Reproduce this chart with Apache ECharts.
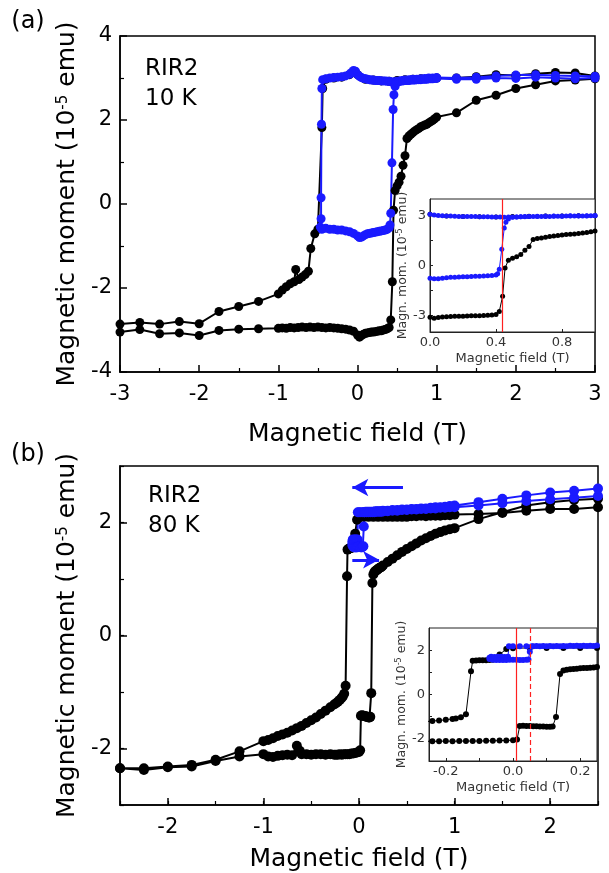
<!DOCTYPE html>
<html>
<head>
<meta charset="utf-8">
<script src="https://cdn.jsdelivr.net/npm/echarts@6/dist/echarts.min.js"></script>
<style>html,body{margin:0;padding:0;background:#fff;}#c{width:609px;height:873px;}</style>
</head>
<body>
<div id="c"></div>
<script>
// ---------- DATA ----------
// Panel (a): 10 K, field in T, moment in 1e-5 emu
const aBlackDown = [[3.0,3.05],[2.75,3.12],[2.5,3.13],[2.25,3.1],[2.0,3.06],[1.75,3.08],[1.5,3.03],[1.25,3.0],[1.0,3.0],[0.9,2.99],[0.8,2.98],[0.7,2.97],[0.6,2.96],[0.5,2.94],[0.4,2.92],[0.3,2.93],[0.2,2.95],[0.1,2.97],[0.0,3.08],[-0.1,3.08],[-0.2,3.02],[-0.3,3.0],[-0.4,2.97],[-0.44,2.75],[-0.45,1.82],[-0.5,-0.6],[-0.54,-0.71],[-0.59,-1.06],[-0.62,-1.6],[-0.66,-1.68],[-0.7,-1.74],[-0.74,-1.8],[-0.78,-1.56],[-0.8,-1.85],[-0.85,-1.9],[-0.9,-1.97],[-0.95,-2.05],[-1.0,-2.14],[-1.25,-2.32],[-1.5,-2.44],[-1.75,-2.56],[-2.0,-2.85],[-2.25,-2.8],[-2.5,-2.86],[-2.75,-2.82],[-3.0,-2.86]];
const aBlackUp = [[-3.0,-3.05],[-2.75,-2.99],[-2.5,-3.09],[-2.25,-3.07],[-2.0,-3.13],[-1.75,-3.01],[-1.5,-2.98],[-1.25,-2.97],[-1.0,-2.96],[-0.95,-2.95],[-0.9,-2.96],[-0.85,-2.94],[-0.8,-2.95],[-0.75,-2.94],[-0.7,-2.93],[-0.65,-2.94],[-0.6,-2.93],[-0.55,-2.94],[-0.5,-2.93],[-0.45,-2.94],[-0.4,-2.95],[-0.35,-2.94],[-0.3,-2.95],[-0.25,-2.96],[-0.2,-2.97],[-0.15,-2.98],[-0.1,-3.0],[-0.05,-3.03],[0.0,-3.12],[0.025,-3.17],[0.05,-3.13],[0.075,-3.1],[0.1,-3.08],[0.125,-3.07],[0.15,-3.06],[0.175,-3.05],[0.2,-3.05],[0.225,-3.04],[0.25,-3.03],[0.275,-3.02],[0.3,-3.02],[0.325,-3.0],[0.35,-2.99],[0.375,-2.97],[0.4,-2.94],[0.42,-2.76],[0.44,-1.85],[0.455,-0.15],[0.475,0.32],[0.5,0.43],[0.525,0.52],[0.55,0.66],[0.575,0.92],[0.6,1.15],[0.625,1.56],[0.65,1.62],[0.675,1.66],[0.7,1.7],[0.725,1.74],[0.75,1.77],[0.775,1.8],[0.8,1.84],[0.825,1.86],[0.85,1.88],[0.875,1.9],[0.9,1.93],[0.925,1.96],[0.95,1.99],[0.975,2.03],[1.0,2.07],[1.25,2.17],[1.5,2.47],[1.75,2.59],[2.0,2.75],[2.25,2.84],[2.5,2.93],[2.75,2.95],[3.0,2.98]];
const aBlueDown = [[3.0,3.0],[2.75,2.98],[2.5,3.0],[2.25,3.02],[2.0,2.99],[1.75,3.0],[1.5,2.97],[1.25,2.97],[1.0,2.99],[0.975,2.99],[0.95,2.98],[0.925,2.98],[0.9,2.98],[0.875,2.97],[0.85,2.97],[0.825,2.97],[0.8,2.96],[0.775,2.96],[0.75,2.96],[0.725,2.95],[0.7,2.95],[0.675,2.95],[0.65,2.94],[0.625,2.94],[0.6,2.94],[0.575,2.93],[0.55,2.93],[0.525,2.92],[0.5,2.92],[0.475,2.91],[0.45,2.9],[0.425,2.91],[0.4,2.92],[0.375,2.92],[0.35,2.93],[0.325,2.93],[0.3,2.93],[0.275,2.94],[0.25,2.94],[0.225,2.94],[0.2,2.95],[0.175,2.95],[0.15,2.96],[0.125,2.97],[0.1,2.98],[0.075,2.99],[0.05,3.01],[0.025,3.04],[0.0,3.08],[-0.025,3.16],[-0.05,3.18],[-0.075,3.13],[-0.1,3.09],[-0.15,3.05],[-0.2,3.03],[-0.25,3.02],[-0.3,3.01],[-0.35,3.0],[-0.4,2.98],[-0.44,2.96],[-0.45,2.75],[-0.455,1.9],[-0.46,0.15],[-0.46,-0.35],[-0.47,-0.55]];
const aBlueUp = [[-0.45,-0.6],[-0.4,-0.58],[-0.35,-0.6],[-0.3,-0.6],[-0.25,-0.62],[-0.2,-0.62],[-0.15,-0.64],[-0.1,-0.66],[-0.05,-0.7],[0.0,-0.76],[0.025,-0.8],[0.05,-0.79],[0.075,-0.76],[0.1,-0.73],[0.125,-0.71],[0.15,-0.7],[0.175,-0.69],[0.2,-0.68],[0.225,-0.67],[0.25,-0.66],[0.275,-0.65],[0.3,-0.64],[0.325,-0.63],[0.35,-0.62],[0.375,-0.6],[0.4,-0.57],[0.41,-0.5],[0.42,-0.22],[0.435,0.98],[0.45,2.25],[0.46,2.6],[0.475,2.8],[0.5,2.9],[0.525,2.92],[0.55,2.93],[0.575,2.94],[0.6,2.95],[0.65,2.96],[0.7,2.97],[0.75,2.97],[0.8,2.98],[0.85,2.99],[0.9,3.0],[0.95,3.0],[1.0,3.01],[1.25,3.0],[1.5,3.02],[1.75,3.05],[2.0,3.07],[2.25,3.08],[2.5,3.06],[2.75,3.05],[3.0,3.04]];
const aRedLine = [0.441];

// Panel (b): 80 K
const bBlackDown = [[2.5,2.27],[2.25,2.24],[2.0,2.24],[1.75,2.21],[1.5,2.17],[1.25,2.15],[1.0,2.14],[0.95,2.13],[0.9,2.13],[0.85,2.12],[0.8,2.12],[0.75,2.12],[0.7,2.11],[0.65,2.12],[0.6,2.11],[0.55,2.11],[0.5,2.1],[0.45,2.1],[0.4,2.1],[0.35,2.1],[0.3,2.1],[0.25,2.1],[0.2,2.1],[0.15,2.1],[0.1,2.1],[0.05,2.1],[0.0,2.09],[-0.02,2.05],[-0.04,1.8],[-0.06,1.57],[-0.07,1.56],[-0.08,1.55],[-0.09,1.55],[-0.1,1.54],[-0.11,1.53],[-0.12,1.52],[-0.125,1.05],[-0.14,-0.89],[-0.155,-1.03],[-0.17,-1.08],[-0.18,-1.1],[-0.2,-1.14],[-0.22,-1.17],[-0.24,-1.2],[-0.26,-1.22],[-0.3,-1.27],[-0.35,-1.33],[-0.4,-1.39],[-0.45,-1.45],[-0.5,-1.5],[-0.55,-1.55],[-0.6,-1.6],[-0.65,-1.64],[-0.7,-1.68],[-0.75,-1.72],[-0.8,-1.75],[-0.85,-1.78],[-0.9,-1.82],[-0.95,-1.85],[-1.0,-1.87],[-1.25,-2.05],[-1.5,-2.2],[-1.75,-2.29],[-2.0,-2.32],[-2.25,-2.35],[-2.5,-2.35]];
const bBlackUp = [[-2.5,-2.35],[-2.25,-2.38],[-2.0,-2.33],[-1.75,-2.32],[-1.5,-2.22],[-1.25,-2.14],[-1.0,-2.1],[-0.95,-2.14],[-0.9,-2.15],[-0.85,-2.13],[-0.8,-2.12],[-0.75,-2.11],[-0.7,-2.12],[-0.65,-1.95],[-0.62,-2.04],[-0.6,-2.1],[-0.55,-2.1],[-0.5,-2.11],[-0.45,-2.1],[-0.4,-2.1],[-0.35,-2.11],[-0.3,-2.1],[-0.26,-2.11],[-0.24,-2.11],[-0.22,-2.11],[-0.2,-2.1],[-0.18,-2.11],[-0.16,-2.1],[-0.14,-2.1],[-0.12,-2.1],[-0.1,-2.1],[-0.08,-2.09],[-0.06,-2.09],[-0.04,-2.08],[-0.02,-2.07],[0.0,-2.06],[0.012,-2.03],[0.02,-1.42],[0.03,-1.41],[0.04,-1.42],[0.05,-1.42],[0.06,-1.43],[0.07,-1.43],[0.08,-1.44],[0.09,-1.44],[0.1,-1.45],[0.11,-1.45],[0.118,-1.44],[0.128,-1.02],[0.14,0.93],[0.15,1.08],[0.16,1.12],[0.17,1.14],[0.18,1.15],[0.19,1.16],[0.2,1.18],[0.21,1.19],[0.22,1.2],[0.23,1.21],[0.24,1.22],[0.25,1.24],[0.3,1.3],[0.35,1.36],[0.4,1.42],[0.45,1.48],[0.5,1.53],[0.55,1.58],[0.6,1.63],[0.65,1.68],[0.7,1.72],[0.75,1.76],[0.8,1.8],[0.85,1.83],[0.9,1.86],[0.95,1.88],[1.0,1.9],[1.25,2.06],[1.5,2.18],[1.75,2.3],[2.0,2.36],[2.25,2.4],[2.5,2.42]];
const bBlueDown = [[2.5,2.47],[2.25,2.44],[2.0,2.41],[1.75,2.38],[1.5,2.34],[1.25,2.3],[1.0,2.27],[0.95,2.27],[0.9,2.26],[0.85,2.26],[0.8,2.25],[0.75,2.25],[0.7,2.24],[0.65,2.24],[0.6,2.23],[0.55,2.23],[0.5,2.22],[0.45,2.22],[0.4,2.21],[0.35,2.21],[0.3,2.2],[0.26,2.2],[0.24,2.19],[0.22,2.19],[0.2,2.19],[0.18,2.19],[0.16,2.18],[0.14,2.18],[0.12,2.18],[0.1,2.18],[0.08,2.18],[0.06,2.18],[0.04,2.18],[0.02,2.18],[0.0,2.18],[-0.012,2.18],[-0.015,1.7],[-0.025,1.69],[-0.035,1.7],[-0.045,1.7],[-0.055,1.69],[-0.065,1.7],[-0.07,1.66]];
const bBlueUp = [[-0.07,1.6],[-0.06,1.57],[-0.05,1.56],[-0.04,1.56],[-0.03,1.56],[-0.02,1.56],[-0.01,1.57],[0.0,1.57],[0.01,1.57],[0.02,1.56],[0.03,1.56],[0.04,1.57],[0.046,1.58],[0.05,1.93],[0.056,2.18],[0.07,2.19],[0.09,2.19],[0.11,2.19],[0.13,2.19],[0.15,2.19],[0.17,2.2],[0.19,2.2],[0.21,2.2],[0.23,2.2],[0.25,2.21],[0.3,2.21],[0.35,2.22],[0.4,2.22],[0.45,2.23],[0.5,2.23],[0.55,2.24],[0.6,2.24],[0.65,2.25],[0.7,2.25],[0.75,2.26],[0.8,2.27],[0.85,2.27],[0.9,2.28],[0.95,2.29],[1.0,2.3],[1.25,2.36],[1.5,2.42],[1.75,2.48],[2.0,2.53],[2.25,2.56],[2.5,2.6]];
const bRedSolid = [0.015];
const bRedDashed = [0.047];
// arrows: [[x0,y0],[x1,y1]]
const bArrowLeft = [[0.46,2.62],[-0.07,2.62]];
const bArrowRight = [[-0.07,1.34],[0.21,1.34]];

// tick labels
const aInsetXLabels = [0,0.4,0.8];
const aInsetYLabels = [-3,0,3];
const aInsetYTicks = [-3,-1.5,0,1.5,3];
const bMainXLabels = [-2,-1,0,1,2];
const bMainYLabels = [-2,0,2];
const bInsetXLabels = [-0.2,0,0.2];
const bInsetXTicks = [-0.2,-0.1,0,0.1,0.2];
const bInsetYLabels = [-2,0,2];
const bInsetYTicks = [-2,-1,0,1,2];

// ---------- CHART ----------
const FONT = 'DejaVu Sans';
const BLUE = '#1a1aff';
const BLACK = '#000000';

function mainSeries(data, color, xi, yi, size, extra) {
  return Object.assign({
    type: 'line', xAxisIndex: xi, yAxisIndex: yi, data: data,
    symbol: 'circle', symbolSize: size, showSymbol: true, clip: true,
    silent: true, animation: false, emphasis: { disabled: true },
    itemStyle: { color: color, borderWidth: 0 },
    lineStyle: { color: color, width: 2, type: 'solid' }, z: 2
  }, extra || {});
}
function insetSeries(data, color, xi, yi, size, extra) {
  return Object.assign({
    type: 'line', xAxisIndex: xi, yAxisIndex: yi, data: data,
    symbol: 'circle', symbolSize: size, showSymbol: true, clip: true,
    silent: true, animation: false, emphasis: { disabled: true },
    itemStyle: { color: color, borderWidth: 0 },
    lineStyle: { color: color, width: 1 }, z: 12
  }, extra || {});
}

function mainX(grid, min, max, opts) {
  return Object.assign({
    gridIndex: grid, type: 'value', min: min, max: max, position: 'bottom',
    axisLine: { onZero: false, lineStyle: { color: BLACK, width: 1.5 } },
    axisTick: { inside: true, length: 7, lineStyle: { color: BLACK, width: 1.5 } },
    splitLine: { show: false },
    axisLabel: { fontSize: 21, color: BLACK, fontFamily: FONT, margin: 12 },
    name: 'Magnetic field (T)', nameLocation: 'middle', nameGap: 50,
    nameTextStyle: { fontSize: 25, color: BLACK, fontFamily: FONT }
  }, opts);
}
function mainY(grid, min, max, opts) {
  return Object.assign({
    gridIndex: grid, type: 'value', min: min, max: max, position: 'left',
    axisLine: { onZero: false, lineStyle: { color: BLACK, width: 1.5 } },
    axisTick: { inside: true, length: 7, lineStyle: { color: BLACK, width: 1.5 } },
    splitLine: { show: false },
    axisLabel: { fontSize: 21, color: BLACK, fontFamily: FONT, margin: 8 },
    name: '{a|Magnetic moment (10}{s|-5}{a| emu)}', nameLocation: 'middle', nameGap: 38, nameRotate: 90,
    nameTextStyle: { color: BLACK, rich: {
      a: { fontSize: 25, fontFamily: FONT, color: BLACK },
      s: { fontSize: 15, fontFamily: FONT, color: BLACK, verticalAlign: 'top' } } }
  }, opts);
}
function minorAxis(grid, min, max, interval, pos) {
  return {
    gridIndex: grid, type: 'value', min: min, max: max, interval: interval, position: pos,
    axisLine: { show: false, onZero: false }, axisLabel: { show: false }, splitLine: { show: false },
    axisTick: { inside: true, length: 4, lineStyle: { color: BLACK, width: 1.2 } }
  };
}
function insetX(grid, min, max, labels, ticks, gap) {
  return {
    gridIndex: grid, type: 'value', min: min, max: max, position: 'bottom', z: 11,
    axisLine: { onZero: false, lineStyle: { color: '#222', width: 1 } },
    axisTick: { inside: true, length: 3, customValues: ticks, lineStyle: { color: '#222', width: 1 } },
    splitLine: { show: false },
    axisLabel: { customValues: labels, fontSize: 13, color: '#333', fontFamily: FONT, margin: 4,
      formatter: function (v) { return Number(v).toFixed(1); } },
    name: 'Magnetic field (T)', nameLocation: 'middle', nameGap: gap,
    nameTextStyle: { fontSize: 13, color: '#333', fontFamily: FONT }
  };
}
function insetY(grid, min, max, labels, ticks, gap) {
  return {
    gridIndex: grid, type: 'value', min: min, max: max, position: 'left', z: 11,
    axisLine: { onZero: false, lineStyle: { color: '#222', width: 1 } },
    axisTick: { inside: true, length: 3, customValues: ticks, lineStyle: { color: '#222', width: 1 } },
    splitLine: { show: false },
    axisLabel: { customValues: labels, fontSize: 13, color: '#333', fontFamily: FONT, margin: 4 },
    name: '{a|Magn. mom. (10}{s|-5}{a| emu)}', nameLocation: 'middle', nameGap: gap, nameRotate: 90,
    nameTextStyle: { color: '#333', rich: {
      a: { fontSize: 12.5, fontFamily: FONT, color: '#333' },
      s: { fontSize: 8, fontFamily: FONT, color: '#333', verticalAlign: 'top' } } }
  };
}

const chart = echarts.init(document.getElementById('c'), null, { renderer: 'canvas' });
chart.setOption({
  backgroundColor: '#ffffff',
  animation: false,
  grid: [
    { left: 120, top: 36, width: 475, height: 336, show: true, borderColor: BLACK, borderWidth: 1.5, backgroundColor: 'transparent', z: 1 },
    { left: 430, top: 199, width: 165, height: 133, show: true, borderColor: '#222', borderWidth: 1, backgroundColor: '#ffffff', z: 10 },
    { left: 120, top: 466, width: 478, height: 339, show: true, borderColor: BLACK, borderWidth: 1.5, backgroundColor: 'transparent', z: 1 },
    { left: 429, top: 628, width: 168, height: 133, show: true, borderColor: '#222', borderWidth: 1, backgroundColor: '#ffffff', z: 10 }
  ],
  xAxis: [
    mainX(0, -3, 3, { interval: 1, minorTick: { show: true, splitNumber: 2, length: 4, lineStyle: { color: BLACK, width: 1.2 } }, minorSplitLine: { show: false } }),
    insetX(1, 0, 1, aInsetXLabels, aInsetXLabels, 20),
    mainX(2, -2.5, 2.5, { nameGap: 42, axisLabel: { customValues: bMainXLabels, fontSize: 21, color: BLACK, fontFamily: FONT, margin: 12 }, axisTick: { inside: true, length: 7, customValues: bMainXLabels, lineStyle: { color: BLACK, width: 1.5 } } }),
    minorAxis(2, -2.5, 2.5, 0.5, 'bottom'),
    insetX(3, -0.25, 0.25, bInsetXLabels, bInsetXTicks, 20)
  ],
  yAxis: [
    mainY(0, -4, 4, { interval: 2, minorTick: { show: true, splitNumber: 2, length: 4, lineStyle: { color: BLACK, width: 1.2 } }, minorSplitLine: { show: false } }),
    insetY(1, -4, 4, aInsetYLabels, aInsetYTicks, 18),
    mainY(2, -3, 3, { axisLabel: { customValues: bMainYLabels, fontSize: 21, color: BLACK, fontFamily: FONT, margin: 8 }, axisTick: { inside: true, length: 7, customValues: bMainYLabels, lineStyle: { color: BLACK, width: 1.5 } } }),
    minorAxis(2, -3, 3, 1, 'left'),
    insetY(3, -3, 3, bInsetYLabels, bInsetYTicks, 18)
  ],
  graphic: [
    { type: 'text', silent: true, style: { text: '(a)', x: 28, y: 22, align: 'center', verticalAlign: 'middle', fontSize: 24, fontFamily: FONT, fill: BLACK } },
    { type: 'text', silent: true, style: { text: 'RIR2', x: 145, y: 69, align: 'left', verticalAlign: 'middle', fontSize: 23, fontFamily: FONT, fill: BLACK } },
    { type: 'text', silent: true, style: { text: '10 K', x: 145, y: 99, align: 'left', verticalAlign: 'middle', fontSize: 23, fontFamily: FONT, fill: BLACK } },
    { type: 'text', silent: true, style: { text: '(b)', x: 28, y: 455, align: 'center', verticalAlign: 'middle', fontSize: 24, fontFamily: FONT, fill: BLACK } },
    { type: 'text', silent: true, style: { text: 'RIR2', x: 148, y: 496, align: 'left', verticalAlign: 'middle', fontSize: 23, fontFamily: FONT, fill: BLACK } },
    { type: 'text', silent: true, style: { text: '80 K', x: 148, y: 526, align: 'left', verticalAlign: 'middle', fontSize: 23, fontFamily: FONT, fill: BLACK } }
  ],
  series: [
    mainSeries(aBlackDown.concat(aBlackUp), BLACK, 0, 0, 9),
    mainSeries(aBlueDown.concat(aBlueUp), BLUE, 0, 0, 9),
    insetSeries(aBlackDown.concat(aBlackUp), BLACK, 1, 1, 5),
    insetSeries(aBlueDown.concat(aBlueUp), BLUE, 1, 1, 5, {
      markLine: { silent: true, z: 13, symbol: 'none', animation: false, label: { show: false },
        lineStyle: { color: '#ff2020', width: 1.2, type: 'solid' },
        data: aRedLine.map(function (v) { return { xAxis: v }; }) }
    }),
    mainSeries(bBlackDown.concat(bBlackUp), BLACK, 2, 2, 10),
    mainSeries(bBlueDown.concat(bBlueUp), BLUE, 2, 2, 10, {
      markLine: { silent: true, z: 6, symbol: ['none', 'arrow'], symbolSize: [13, 16], animation: false, label: { show: false },
        lineStyle: { color: BLUE, width: 3, type: 'solid' },
        data: [bArrowLeft, bArrowRight].map(function (a) { return [{ coord: a[0] }, { coord: a[1] }]; }) }
    }),
    insetSeries(bBlackDown.concat(bBlackUp), BLACK, 4, 4, 6),
    insetSeries(bBlueDown.concat(bBlueUp), BLUE, 4, 4, 6, {
      markLine: { silent: true, z: 13, symbol: 'none', animation: false, label: { show: false },
        data: bRedSolid.map(function (v) { return { xAxis: v, lineStyle: { color: '#ff2020', width: 1.2, type: 'solid' } }; })
          .concat(bRedDashed.map(function (v) { return { xAxis: v, lineStyle: { color: '#ff2020', width: 1.2, type: [5, 3] } }; })) }
    })
  ]
});
</script>
</body>
</html>
